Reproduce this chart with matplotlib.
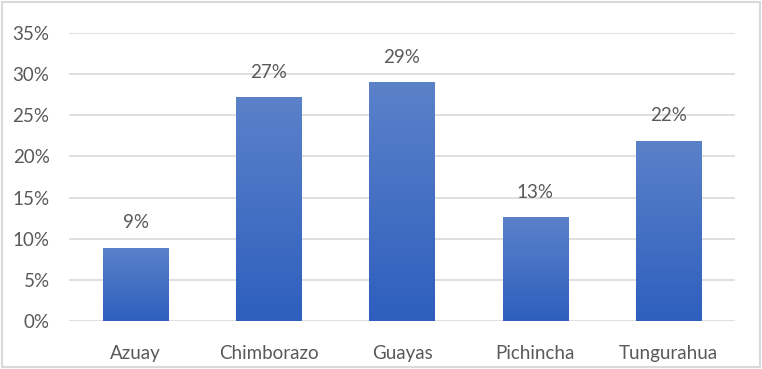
import numpy as np
import matplotlib
matplotlib.use("Agg")
import matplotlib.pyplot as plt
from matplotlib.colors import LinearSegmentedColormap
from matplotlib.patches import Rectangle

# data
provinces = ["Azuay", "Chimborazo", "Guayas", "Pichincha", "Tungurahua"]
shares = [8.9, 27.2, 29.0, 12.6, 21.9]
share_labels = ["9%", "27%", "29%", "13%", "22%"]
yticks = [0, 5, 10, 15, 20, 25, 30, 35]

plt.rcParams['font.family'] = ['Lato', 'DejaVu Sans']
txt = '#595959'

fig = plt.figure(figsize=(7.62, 3.69), dpi=100)
ax = fig.add_axes([69 / 762, 1 - 321 / 369, 666 / 762, 288 / 369])

bars = ax.bar(provinces, shares, width=0.49, color='none', zorder=2)

# vertical gradient fill, lighter at top
grad = LinearSegmentedColormap.from_list('g', ['#2e5fbe', '#5b81c9'])
gimg = np.linspace(0, 1, 256).reshape(-1, 1)
for b in bars:
    x0, y0 = b.get_x(), b.get_y()
    w, h = b.get_width(), b.get_height()
    im = ax.imshow(gimg, cmap=grad, origin='lower', aspect='auto',
                   extent=(x0, x0 + w, y0, y0 + h), zorder=2)
    im.set_clip_path(b)

for b, lab in zip(bars, share_labels):
    ax.annotate(lab, (b.get_x() + b.get_width() / 2, b.get_height()),
                xytext=(0, 12), textcoords='offset points',
                ha='center', va='bottom', fontsize=13.5, color=txt)

ax.set_xlim(-0.5, len(provinces) - 0.5)
ax.set_ylim(0, 35)
ax.set_yticks(yticks)
ax.set_yticklabels([f"{t}%" for t in yticks])
ax.grid(axis='y', color='#d9d9d9', linewidth=1.2, zorder=0)
ax.set_axisbelow(True)
for s in ax.spines.values():
    s.set_visible(False)
ax.tick_params(length=0, labelsize=13.5, colors=txt)
ax.tick_params(axis='y', pad=14)
ax.tick_params(axis='x', pad=17)

# light frame around the whole chart
fig.patches.append(Rectangle((2 / 762, 2 / 369), 758 / 762, 365 / 369,
                             transform=fig.transFigure, fill=False,
                             edgecolor='#d9d9d9', linewidth=1.5))

fig.savefig("out.png", dpi=100)
